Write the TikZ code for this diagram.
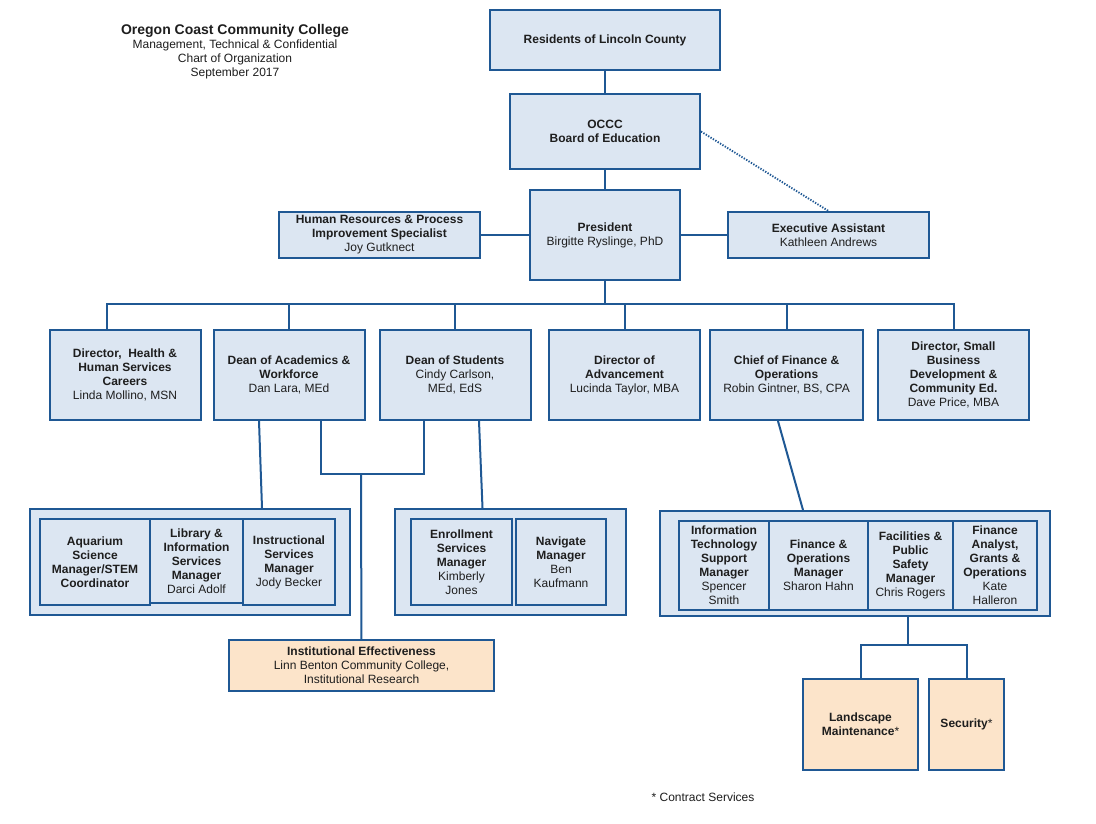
\documentclass[tikz,border=0pt]{standalone}
\usepackage{fontspec}
\setmainfont{Liberation Sans}
\usepackage{xcolor}
\usepackage{tikz}
\usetikzlibrary{positioning}

\definecolor{ocline}{RGB}{31,88,148}
\definecolor{ocfill}{RGB}{220,230,242}
\definecolor{ocpeach}{RGB}{252,228,202}
\definecolor{octext}{RGB}{30,30,30}

\begin{document}
\begin{tikzpicture}[
    x=0.75pt, y=-0.75pt,
    orgbox/.style={rectangle, draw=ocline, fill=ocfill, line width=1.5pt, inner sep=1pt, align=center, text=octext, font=\fontsize{9}{10.5}\selectfont},
    contractbox/.style={orgbox, fill=ocpeach},
    groupbox/.style={rectangle, draw=ocline, fill=ocfill, line width=1.5pt},
    sz/.style 2 args={minimum width=#1*0.75pt, minimum height=#2*0.75pt},
    linkline/.style={draw=ocline, line width=1.5pt},
    dotline/.style={draw=ocline, line width=1.4pt, dash pattern=on 1pt off 1.1pt},
    plain/.style={align=center, text=octext, font=\fontsize{9}{10.5}\selectfont}
]
\useasboundingbox[fill=white] (0,0) rectangle (1096,824);

% Heading
\node[plain] (title) at (235,52) {{\fontsize{10.5}{10.5}\selectfont\bfseries Oregon Coast Community College}\\Management, Technical \& Confidential\\Chart of Organization\\September 2017};

% Top of the chart
\node[orgbox, sz={230}{60}] (residents) at (605,40) {\textbf{Residents of Lincoln County}};
\node[orgbox, sz={190}{75}] (board) at (605,131.5) {\textbf{OCCC}\\\textbf{Board of Education}};
\node[orgbox, sz={150}{90}] (president) at (605,235) {\textbf{President}\\Birgitte Ryslinge, PhD};
\node[orgbox, sz={201}{46}] (hr) at (379.5,235) {\textbf{Human Resources \& Process}\\\textbf{Improvement Specialist}\\Joy Gutknect};
\node[orgbox, sz={201}{46}] (exec) at (828.5,235) {\textbf{Executive Assistant}\\Kathleen Andrews};

% Directors and deans
\node[orgbox, sz={151}{90}] (health) at (125,375) {\textbf{Director,\ \ Health \&}\\\textbf{Human Services}\\\textbf{Careers}\\Linda Mollino, MSN};
\node[orgbox, sz={151}{90}] (academics) at (289,375) {\textbf{Dean of Academics \&}\\\textbf{Workforce}\\Dan Lara, MEd};
\node[orgbox, sz={151}{90}] (students) at (455,375) {\textbf{Dean of Students}\\Cindy Carlson,\\MEd, EdS};
\node[orgbox, sz={151}{90}] (advancement) at (624.5,375) {\textbf{Director of}\\\textbf{Advancement}\\Lucinda Taylor, MBA};
\node[orgbox, sz={153}{90}] (chief) at (786.5,375) {\textbf{Chief of Finance \&}\\\textbf{Operations}\\Robin Gintner, BS, CPA};
\node[orgbox, sz={151}{90}] (smallbiz) at (953.5,375) {\textbf{Director,\ Small}\\\textbf{Business}\\\textbf{Development \&}\\\textbf{Community Ed.}\\Dave Price, MBA};

% Academic managers
\node[groupbox, sz={320}{106}] (grp1) at (190,562) {};
\node[orgbox, sz={110}{86}] (aquarium) at (95,562) {\textbf{Aquarium}\\\textbf{Science}\\\textbf{Manager/STEM}\\\textbf{Coordinator}};
\node[orgbox, sz={93}{84}] (library) at (196.5,561) {\textbf{Library \&}\\\textbf{Information}\\\textbf{Services}\\\textbf{Manager}\\Darci Adolf};
\node[orgbox, sz={92}{86}] (instruction) at (289,562) {\textbf{Instructional}\\\textbf{Services}\\\textbf{Manager}\\Jody Becker};

% Student services managers
\node[groupbox, sz={231}{106}] (grp2) at (510.5,562) {};
\node[orgbox, sz={101}{86}] (enrollment) at (461.5,562) {\textbf{Enrollment}\\\textbf{Services}\\\textbf{Manager}\\Kimberly\\Jones};
\node[orgbox, sz={90}{86}] (navigate) at (561,562) {\textbf{Navigate}\\\textbf{Manager}\\Ben\\Kaufmann};

% Finance and operations managers
\node[groupbox, sz={390}{105}] (grp3) at (855,563.5) {};
\node[orgbox, sz={90}{89}] (itsupport) at (724,565.5) {\textbf{Information}\\\textbf{Technology}\\\textbf{Support}\\\textbf{Manager}\\Spencer\\Smith};
\node[orgbox, sz={99}{89}] (finops) at (818.5,565.5) {\textbf{Finance \&}\\\textbf{Operations}\\\textbf{Manager}\\Sharon Hahn};
\node[orgbox, sz={85}{89}] (facilities) at (910.5,565.5) {\textbf{Facilities \&}\\\textbf{Public}\\\textbf{Safety}\\\textbf{Manager}\\Chris Rogers};
\node[orgbox, sz={84}{89}] (analyst) at (995,565.5) {\textbf{Finance}\\\textbf{Analyst,}\\\textbf{Grants \&}\\\textbf{Operations}\\Kate\\Halleron};

% Contracted services
\node[contractbox, sz={265}{51}] (ie) at (361.5,665.5) {\textbf{Institutional Effectiveness}\\Linn Benton Community College,\\Institutional Research};
\node[contractbox, sz={115}{91}] (landscape) at (860.5,724.5) {\textbf{Landscape}\\\textbf{Maintenance}*};
\node[contractbox, sz={75}{91}] (security) at (966.5,724.5) {\textbf{Security}*};
\node[plain] (note) at (703,797) {* Contract Services};

% Connections
\draw[linkline] (residents) -- (board);
\draw[linkline] (board) -- (president);
\draw[linkline] (hr) -- (president);
\draw[linkline] (president) -- (exec);
\draw[dotline] (board.east) -- (exec.north);

\coordinate (bus) at (605,304);
\draw[linkline] (president) -- (bus);
\draw[linkline] (bus) -| ([xshift=-13.5pt]health.north);
\draw[linkline] (bus) -| (academics);
\draw[linkline] (bus) -| (students);
\draw[linkline] (bus) -| (advancement);
\draw[linkline] (bus) -| (chief);
\draw[linkline] (bus) -| (smallbiz);

\draw[linkline] ([xshift=-22.5pt]academics.south) -- ([xshift=54pt]grp1.north);
\coordinate (merge) at (361,474);
\draw[linkline] ([xshift=24pt]academics.south) |- (merge) -| ([xshift=-23.25pt]students.south);
\draw[linkline] (merge) -- (ie);
\draw[linkline] ([xshift=18pt]students.south) -- ([xshift=-21pt]grp2.north);
\draw[linkline] ([xshift=-6.4pt]chief.south) -- ([xshift=-39pt]grp3.north);

\coordinate (split) at (908,645);
\draw[linkline] (split |- grp3.south) -- (split);
\draw[linkline] (landscape) |- (split) -| (security);

\end{tikzpicture}
\end{document}
